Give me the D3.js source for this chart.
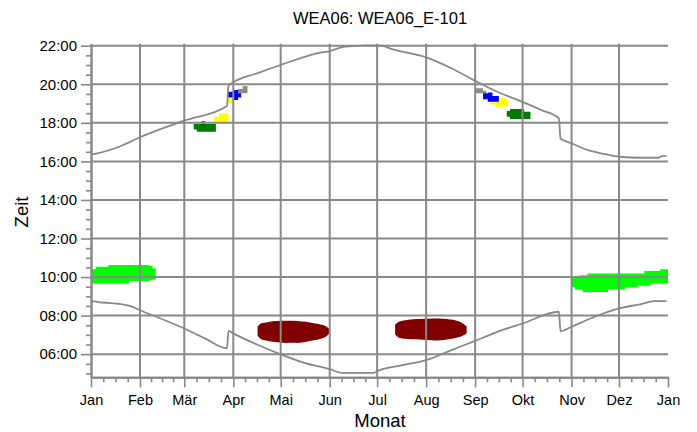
<!DOCTYPE html>
<html><head><meta charset="utf-8">
<script src="https://cdn.jsdelivr.net/npm/d3@7"></script>
<style>body{margin:0;background:#fff}svg{display:block}</style>
</head><body><svg id="c" width="697" height="432"></svg>
<script>
// ---------- data ----------
const chartTitle = "WEA06: WEA06_E-101";
const xTitle = "Monat";
const yTitle = "Zeit";
const monthLabels = ["Jan","Feb","Mär","Apr","Mai","Jun","Jul","Aug","Sep","Okt","Nov","Dez","Jan"];
const yTickHours = [6,8,10,12,14,16,18,20,22];

// sunset line (decimal hours)
const sunsetDates = ["2015-01-01","2015-01-05","2015-01-20","2015-02-01","2015-03-01","2015-03-28","2015-03-29","2015-04-01","2015-04-16","2015-05-01","2015-05-26","2015-06-01","2015-06-09","2015-06-15","2015-06-25","2015-07-04","2015-07-11","2015-07-20","2015-08-01","2015-08-17","2015-09-01","2015-09-15","2015-10-01","2015-10-13","2015-10-24","2015-10-25","2015-11-01","2015-11-13","2015-11-22","2015-12-01","2015-12-15","2015-12-26","2015-12-28","2015-12-31"];
const sunsetTimes = [16.36,16.42,16.80,17.25,18.11,18.87,19.92,20.10,20.57,21.00,21.64,21.72,21.93,21.98,22.02,22.00,21.81,21.64,21.40,20.83,20.18,19.61,19.09,18.66,18.23,17.19,16.94,16.54,16.38,16.24,16.19,16.19,16.27,16.27];

// sunrise line
const sunriseDates = ["2015-01-01","2015-01-08","2015-01-20","2015-01-26","2015-02-01","2015-02-14","2015-03-01","2015-03-14","2015-03-28","2015-03-29","2015-04-01","2015-04-16","2015-05-01","2015-05-16","2015-06-01","2015-06-09","2015-06-29","2015-07-01","2015-07-17","2015-08-01","2015-08-17","2015-09-01","2015-09-15","2015-10-01","2015-10-24","2015-10-25","2015-11-01","2015-11-13","2015-12-01","2015-12-15","2015-12-23","2015-12-31"];
const sunriseTimes = [8.77,8.68,8.60,8.49,8.28,7.85,7.33,6.82,6.30,7.21,7.08,6.50,5.99,5.55,5.22,5.03,5.03,5.12,5.43,5.69,6.21,6.69,7.16,7.59,8.20,7.19,7.42,7.85,8.37,8.60,8.75,8.75];

// shadow periods: dates, start times, end times
const limeJanDates = ["2015-01-01","2015-01-04","2015-01-12","2015-01-25","2015-02-07","2015-02-09","2015-02-11"];
const limeJanStart = [9.67,9.67,9.67,9.79,9.84,9.88,9.88];
const limeJanEnd   = [10.40,10.53,10.62,10.62,10.58,10.45,10.45];

const limeNovDates = ["2015-11-01","2015-11-03","2015-11-06","2015-11-08","2015-11-11","2015-11-24","2015-12-05","2015-12-13","2015-12-17","2015-12-21","2015-12-27","2016-01-01"];
const limeNovStart = [9.49,9.36,9.36,9.23,9.23,9.36,9.46,9.55,9.55,9.67,9.67,9.67];
const limeNovEnd   = [10.05,10.05,10.10,10.10,10.19,10.19,10.19,10.19,10.31,10.31,10.41,10.41];

const brownMayDates = ["2015-04-17","2015-04-19","2015-04-22","2015-04-26","2015-05-02","2015-05-09","2015-05-13","2015-05-17","2015-05-21","2015-05-25","2015-05-29","2015-05-31"];
const brownMayStart = [6.99,6.82,6.76,6.69,6.64,6.64,6.64,6.69,6.76,6.82,6.94,7.08];
const brownMayEnd   = [7.42,7.56,7.59,7.65,7.68,7.68,7.65,7.63,7.56,7.51,7.42,7.30];

const brownAugDates = ["2015-07-13","2015-07-15","2015-07-19","2015-07-26","2015-08-09","2015-08-18","2015-08-22","2015-08-26"];
const brownAugStart = [7.04,6.90,6.85,6.82,6.76,6.87,6.94,7.11];
const brownAugEnd   = [7.51,7.63,7.71,7.77,7.80,7.73,7.63,7.42];

const greenMarDates = ["2015-03-07","2015-03-09","2015-03-12","2015-03-14","2015-03-21"];
const greenMarStart = [17.66,17.54,17.54,17.54,17.54];
const greenMarEnd   = [17.94,17.94,18.09,17.94,17.94];

const yellowMarDates = ["2015-03-20","2015-03-23","2015-03-29"];
const yellowMarStart = [18.06,17.97,17.97];
const yellowMarEnd   = [18.32,18.49,18.49];

const yellowAprDates = ["2015-03-28","2015-04-01"];
const yellowAprStart = [19.01,19.01];
const yellowAprEnd   = [19.27,19.27];

const grayAprDates = ["2015-04-04","2015-04-07","2015-04-10"];
const grayAprStart = [19.53,19.53,19.53];
const grayAprEnd   = [19.75,19.91,19.91];

const blueAprDates = ["2015-03-28","2015-04-01","2015-04-04","2015-04-06"];
const blueAprStart = [19.32,19.18,19.32,19.32];
const blueAprEnd   = [19.61,19.70,19.53,19.53];

const graySepDates = ["2015-09-01","2015-09-06","2015-09-08"];
const graySepStart = [19.53,19.53,19.53];
const graySepEnd   = [19.79,19.66,19.66];

const yellowSepDates = ["2015-09-10","2015-09-14","2015-09-20","2015-09-22"];
const yellowSepStart = [18.97,18.83,18.92,18.92];
const yellowSepEnd   = [19.18,19.30,19.18,19.18];

const blueSepDates = ["2015-09-06","2015-09-09","2015-09-12","2015-09-16"];
const blueSepStart = [19.22,19.09,19.09,19.09];
const blueSepEnd   = [19.53,19.58,19.39,19.39];

const greenSepDates = ["2015-09-21","2015-09-23","2015-10-02","2015-10-06"];
const greenSepStart = [18.32,18.20,18.20,18.20];
const greenSepEnd   = [18.61,18.72,18.58,18.58];

// ---------- drawing ----------
const parse = d3.timeParse("%Y-%m-%d");
const svg = d3.select("#c");
const GRID = "#898989";
const x = d3.scaleTime().domain([new Date(2015,0,1), new Date(2016,0,1)]).range([91,668]);
const y = d3.scaleLinear().domain([4.8,22.1]).range([377.3,43.8]);
const NARROW = "'Liberation Sans Narrow','Arial Narrow','Liberation Sans',Arial,sans-serif";
const SANS = "'Liberation Sans',Arial,Helvetica,sans-serif";

// shadow blobs
const blobs = [
  [limeJanDates,limeJanStart,limeJanEnd,"#00ff00"],
  [limeNovDates,limeNovStart,limeNovEnd,"#00ff00"],
  [brownMayDates,brownMayStart,brownMayEnd,"#800000"],
  [brownAugDates,brownAugStart,brownAugEnd,"#800000"],
  [greenMarDates,greenMarStart,greenMarEnd,"#007a00"],
  [yellowMarDates,yellowMarStart,yellowMarEnd,"#ffff00"],
  [yellowAprDates,yellowAprStart,yellowAprEnd,"#ffff00"],
  [grayAprDates,grayAprStart,grayAprEnd,"#8a8a8a"],
  [blueAprDates,blueAprStart,blueAprEnd,"#0000ff"],
  [graySepDates,graySepStart,graySepEnd,"#8a8a8a"],
  [yellowSepDates,yellowSepStart,yellowSepEnd,"#ffff00"],
  [blueSepDates,blueSepStart,blueSepEnd,"#0000ff"],
  [greenSepDates,greenSepStart,greenSepEnd,"#007a00"]
];
const brownArea = d3.area().curve(d3.curveCatmullRom)
  .x(d=>x(d.t)).y0(d=>y(d.a)).y1(d=>y(d.b));
const stepArea = d3.area().curve(d3.curveStepAfter)
  .x(d=>x(d.t)).y0(d=>y(d.a)).y1(d=>y(d.b));
blobs.forEach(([ds,as,bs,col])=>{
  const pts = ds.map((s,i)=>({t:parse(s),a:as[i],b:bs[i]}));
  const brown = col==="#800000";
  svg.append("path").datum(pts)
    .attr("d", brown ? brownArea(pts) : stepArea(pts))
    .attr("fill",col).attr("stroke", brown?col:"none").attr("stroke-width",2).attr("stroke-linejoin","round");
});

// grid
const monthStarts = d3.range(13).map(m=>new Date(2015,m,1));
svg.append("g").selectAll("line").data(monthStarts.slice(1,12)).join("line")
  .attr("x1",d=>x(d)).attr("x2",d=>x(d)).attr("y1",y(22.1)).attr("y2",y(4.8))
  .attr("stroke",GRID).attr("stroke-width",2);
svg.append("g").selectAll("line").data(yTickHours).join("line")
  .attr("x1",x.range()[0]).attr("x2",x.range()[1]).attr("y1",d=>y(d)).attr("y2",d=>y(d))
  .attr("stroke",GRID).attr("stroke-width",2);

// sun lines
const line = d3.line().curve(d3.curveMonotoneX).x(d=>x(d.t)).y(d=>y(d.v));
[[sunsetDates,sunsetTimes],[sunriseDates,sunriseTimes]].forEach(([ds,vs])=>{
  svg.append("path").datum(ds.map((s,i)=>({t:parse(s),v:vs[i]})))
    .attr("d",line).attr("fill","none").attr("stroke","#888").attr("stroke-width",1.8);
});

// axes
function styleAxis(g){
  g.select(".domain").attr("stroke",GRID).attr("stroke-width",2);
  g.selectAll(".tick line").attr("stroke",GRID).attr("stroke-width",1.6);
  g.selectAll("text").attr("fill","#000").attr("font-family",NARROW).attr("font-size",15);
}
const minorH = d3.range(5,22.01,0.5).filter(h=>!yTickHours.includes(h));
svg.append("g").attr("transform",`translate(${x.range()[0]},0)`)
  .call(d3.axisLeft(y).tickValues(minorH).tickSize(5).tickSizeOuter(0).tickFormat(""))
  .call(styleAxis);
svg.append("g").attr("transform",`translate(${x.range()[0]},0)`)
  .call(d3.axisLeft(y).tickValues(yTickHours).tickSize(10).tickSizeOuter(0).tickPadding(4)
    .tickFormat(h=>String(h).padStart(2,"0")+":00"))
  .call(styleAxis);

const minorD = [];
for(let m=0;m<12;m++){
  const s=new Date(2015,m,1), e=new Date(2015,m+1,1);
  for(let q=1;q<4;q++) minorD.push(new Date(+s+(e-s)*q/4));
}
svg.append("g").attr("transform",`translate(0,${y.range()[0]})`)
  .call(d3.axisBottom(x).tickValues(minorD).tickSize(5).tickSizeOuter(0).tickFormat(""))
  .call(styleAxis);
svg.append("g").attr("transform",`translate(0,${y.range()[0]})`)
  .call(d3.axisBottom(x).tickValues(monthStarts).tickSize(10).tickSizeOuter(0).tickPadding(7)
    .tickFormat((d,i)=>monthLabels[i]))
  .call(styleAxis).call(g=>g.selectAll("text").attr("font-size",14.5));

// titles
svg.append("text").attr("x",380).attr("y",24).attr("text-anchor","middle")
  .attr("font-family",SANS).attr("font-size",16.5).text(chartTitle);
svg.append("text").attr("x",380).attr("y",427).attr("text-anchor","middle")
  .attr("font-family",SANS).attr("font-size",18.5).text(xTitle);
svg.append("text").attr("transform","translate(28,212) rotate(-90)").attr("text-anchor","middle")
  .attr("font-family",SANS).attr("font-size",18.5).text(yTitle);
</script></body></html>
